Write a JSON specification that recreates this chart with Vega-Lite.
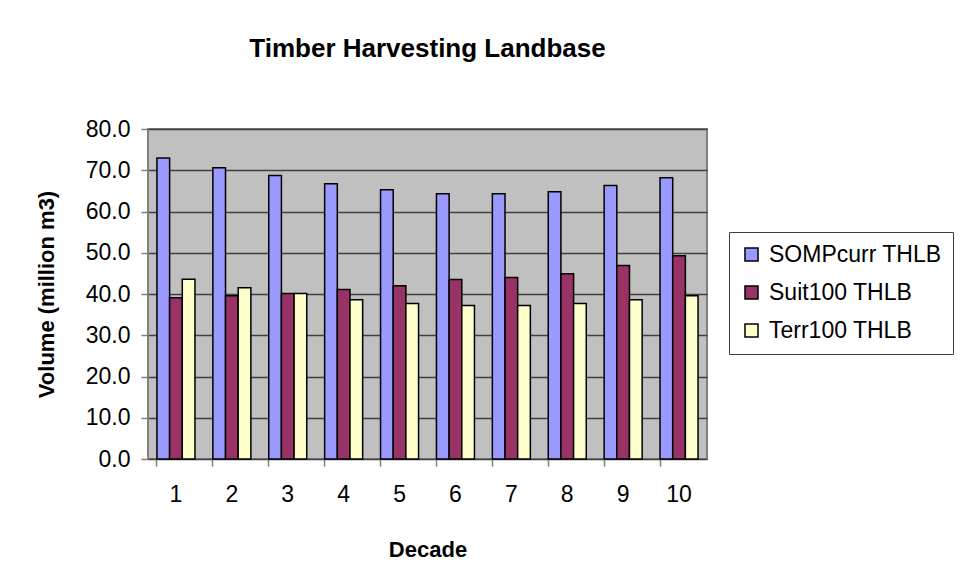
{
  "$schema": "https://vega.github.io/schema/vega-lite/v6.json",
  "width": 559,
  "height": 330,
  "autosize": {"type": "none"},
  "padding": {"left": 148, "top": 129, "right": 255, "bottom": 127},
  "background": "white",
  "title": {
    "text": "Timber Harvesting Landbase",
    "font": "Liberation Sans",
    "fontSize": 26,
    "fontWeight": "bold",
    "color": "black",
    "anchor": "middle",
    "frame": "group",
    "offset": 56
  },
  "config": {
    "view": {"fill": "#C0C0C0", "stroke": "#808080", "strokeWidth": 2},
    "font": "Liberation Sans"
  },
  "data": {
    "values": [
      {"decade": 1, "series": "SOMPcurr THLB", "volume": 73.0},
      {"decade": 1, "series": "Suit100 THLB", "volume": 39.1},
      {"decade": 1, "series": "Terr100 THLB", "volume": 43.6},
      {"decade": 2, "series": "SOMPcurr THLB", "volume": 70.6},
      {"decade": 2, "series": "Suit100 THLB", "volume": 39.6},
      {"decade": 2, "series": "Terr100 THLB", "volume": 41.5},
      {"decade": 3, "series": "SOMPcurr THLB", "volume": 68.7},
      {"decade": 3, "series": "Suit100 THLB", "volume": 40.1},
      {"decade": 3, "series": "Terr100 THLB", "volume": 40.1},
      {"decade": 4, "series": "SOMPcurr THLB", "volume": 66.7},
      {"decade": 4, "series": "Suit100 THLB", "volume": 41.1},
      {"decade": 4, "series": "Terr100 THLB", "volume": 38.6},
      {"decade": 5, "series": "SOMPcurr THLB", "volume": 65.3},
      {"decade": 5, "series": "Suit100 THLB", "volume": 42.0},
      {"decade": 5, "series": "Terr100 THLB", "volume": 37.7},
      {"decade": 6, "series": "SOMPcurr THLB", "volume": 64.3},
      {"decade": 6, "series": "Suit100 THLB", "volume": 43.5},
      {"decade": 6, "series": "Terr100 THLB", "volume": 37.2},
      {"decade": 7, "series": "SOMPcurr THLB", "volume": 64.3},
      {"decade": 7, "series": "Suit100 THLB", "volume": 44.0},
      {"decade": 7, "series": "Terr100 THLB", "volume": 37.2},
      {"decade": 8, "series": "SOMPcurr THLB", "volume": 64.8},
      {"decade": 8, "series": "Suit100 THLB", "volume": 44.9},
      {"decade": 8, "series": "Terr100 THLB", "volume": 37.7},
      {"decade": 9, "series": "SOMPcurr THLB", "volume": 66.3},
      {"decade": 9, "series": "Suit100 THLB", "volume": 46.9},
      {"decade": 9, "series": "Terr100 THLB", "volume": 38.6},
      {"decade": 10, "series": "SOMPcurr THLB", "volume": 68.2},
      {"decade": 10, "series": "Suit100 THLB", "volume": 49.3},
      {"decade": 10, "series": "Terr100 THLB", "volume": 39.6}
    ]
  },
  "mark": {"type": "bar", "stroke": "black", "strokeWidth": 1.5},
  "encoding": {
    "x": {
      "field": "decade",
      "type": "ordinal",
      "title": "Decade",
      "scale": {"paddingInner": 0.32, "paddingOuter": 0.16},
      "axis": {
        "labelAngle": 0,
        "labelFontSize": 23,
        "labelColor": "black",
        "labelPadding": 17,
        "bandPosition": 0,
        "tickSize": 7,
        "tickColor": "#808080",
        "tickWidth": 1.5,
        "domain": false,
        "titleFontSize": 22,
        "titleFontWeight": "bold",
        "titleColor": "black",
        "titlePadding": 33
      }
    },
    "xOffset": {
      "field": "series",
      "type": "nominal",
      "scale": {"paddingInner": 0, "paddingOuter": 0},
      "sort": ["SOMPcurr THLB", "Suit100 THLB", "Terr100 THLB"]
    },
    "y": {
      "field": "volume",
      "type": "quantitative",
      "title": "Volume (million m3)",
      "scale": {"domain": [0, 80], "nice": false},
      "axis": {
        "values": [0, 10, 20, 30, 40, 50, 60, 70, 80],
        "format": ".1f",
        "labelFontSize": 23,
        "labelColor": "black",
        "labelPadding": 11,
        "tickSize": 7,
        "tickColor": "#808080",
        "tickWidth": 1.5,
        "domain": false,
        "grid": true,
        "gridColor": "#404040",
        "gridWidth": 1.5,
        "titleFontSize": 22,
        "titleFontWeight": "bold",
        "titleColor": "black",
        "titlePadding": 27
      }
    },
    "color": {
      "field": "series",
      "type": "nominal",
      "scale": {
        "domain": ["SOMPcurr THLB", "Suit100 THLB", "Terr100 THLB"],
        "range": ["#9999FF", "#993366", "#FFFFCC"]
      },
      "legend": {
        "title": null,
        "orient": "none",
        "legendX": 581,
        "legendY": 103,
        "fillColor": "white",
        "strokeColor": "#404040",
        "padding": 11,
        "symbolType": "square",
        "symbolSize": 170,
        "symbolStrokeColor": "black",
        "symbolStrokeWidth": 1.5,
        "symbolOpacity": 1,
        "labelFontSize": 23,
        "labelLimit": 0,
        "labelColor": "black",
        "labelOffset": 6,
        "rowPadding": 14
      }
    }
  }
}
